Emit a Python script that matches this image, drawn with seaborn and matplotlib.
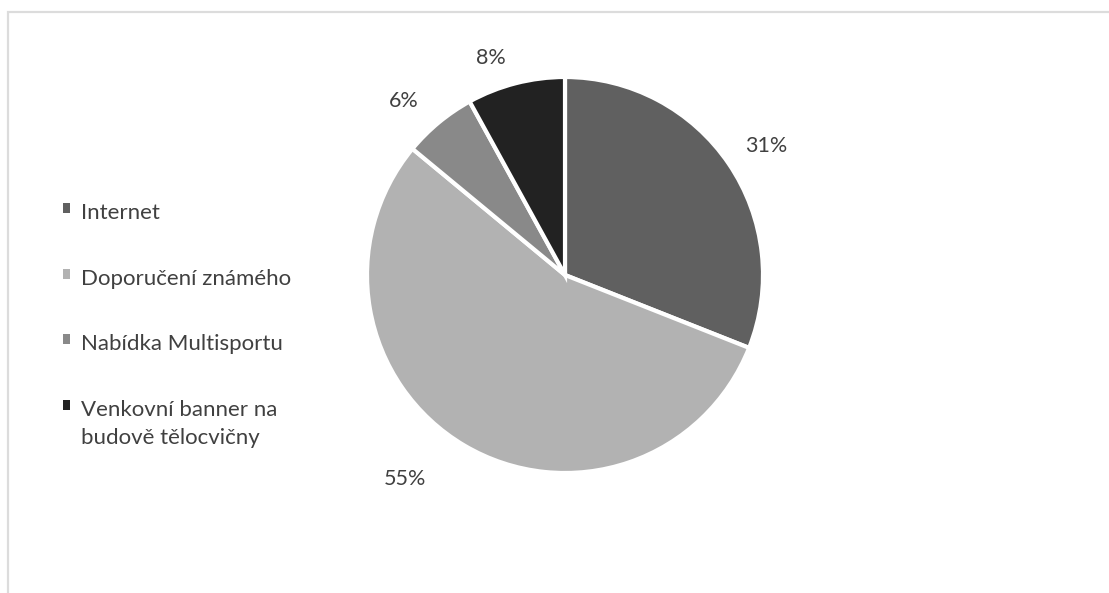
import matplotlib
matplotlib.use("Agg")
import matplotlib.pyplot as plt
import seaborn as sns
import numpy as np
from matplotlib.patches import Rectangle

categories = ["Internet", "Doporučení známého", "Nabídka Multisportu", "Venkovní banner na\nbudově tělocvičny"]
values = [31, 55, 6, 8]
pct_labels = ["31%", "55%", "6%", "8%"]
colors = ["#606060", "#b2b2b2", "#898989", "#222222"]

# label placement tweaks (layout only)
label_dist = [1.21, 1.31, 1.2, 1.16]
label_dangle = [-1.5, -7.5, 3.2, 4.5]

sns.set_theme(style="white")
plt.rcParams['font.family'] = ['Lato', 'DejaVu Sans']

W, H = 1109, 593
fig = plt.figure(figsize=(W / 100, H / 100), dpi=100)

# chart border (top and left visible)
fig.add_artist(Rectangle((7.5 / W, -0.1), 1.5, 1 - 12.5 / H + 0.1, transform=fig.transFigure,
                         fill=False, edgecolor="#dcdcdc", linewidth=1.6))

cx, cy, r = 565, 275, 198
ax = fig.add_axes([(cx - r) / W, (H - cy - r) / H, 2 * r / W, 2 * r / H])
wedges, texts = ax.pie(values, labels=pct_labels, colors=colors, startangle=90, counterclock=False,
                       labeldistance=1.2,
                       wedgeprops=dict(edgecolor="white", linewidth=3),
                       textprops=dict(fontsize=15.5, color="#404040"))
for w, t, d, da in zip(wedges, texts, label_dist, label_dangle):
    ang = np.deg2rad((w.theta1 + w.theta2) / 2 + da)
    t.set_position((d * np.cos(ang), d * np.sin(ang)))
    t.set_ha("center")
    t.set_va("center")
ax.set_xlim(-1, 1)
ax.set_ylim(-1, 1)
ax.set_aspect("equal")
ax.axis("off")

leg = fig.legend(wedges, categories, loc="upper left", bbox_to_anchor=(63 / W, 1 - 203 / H),
                 frameon=False, fontsize=16, labelcolor="#404040",
                 handlelength=0.33, handleheight=0.33, handletextpad=0.5,
                 labelspacing=2.05, borderpad=0, borderaxespad=0)
for h in leg.legend_handles:
    h.set_edgecolor("none")
    h.set_linewidth(0)
for t in leg.get_texts():
    t.set_linespacing(1.5)
# align the square of each entry with the first line of its text
for col in leg._legend_handle_box.get_children():
    for row in col.get_children():
        row.align = "top"

fig.savefig("out.png", dpi=100, facecolor="white")
